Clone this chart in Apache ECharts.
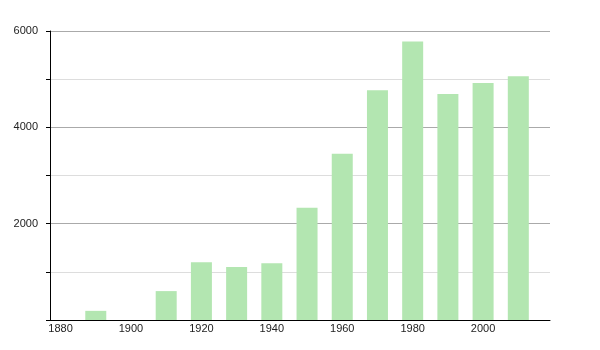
<!DOCTYPE html>
<html>
<head>
<meta charset="utf-8">
<script src="https://cdn.jsdelivr.net/npm/echarts@6/dist/echarts.min.js"></script>
<style>
  html, body { margin: 0; padding: 0; background: #fff; }
  #chart { width: 600px; height: 350px; }
</style>
</head>
<body>
<div id="chart"></div>
<script>
// 年份与人口
const years = [1890, 1910, 1920, 1930, 1940, 1950, 1960, 1970, 1980, 1990, 2000, 2010];
const values = [190, 600, 1200, 1100, 1180, 2330, 3450, 4770, 5780, 4690, 4920, 5060];
const xTickLabels = [1880, 1900, 1920, 1940, 1960, 1980, 2000];
const yTickLabels = [2000, 4000, 6000];

const chart = echarts.init(document.getElementById('chart'));

const option = {
    animation: false,
    grid: { left: 50, right: 50, top: 31, bottom: 30 },
    xAxis: {
        type: 'value',
        min: 1877,
        max: 2019,
        splitLine: { show: false },
        axisLine: { lineStyle: { color: '#000', width: 1 } },
        axisTick: { show: false },
        axisLabel: {
            customValues: xTickLabels,
            color: '#222',
            fontFamily: 'Liberation Sans',
            fontSize: 11,
            margin: 3,
            formatter: v => String(v)
        }
    },
    yAxis: {
        type: 'value',
        min: 0,
        max: 6000,
        interval: 1000,
        axisLine: { show: true, lineStyle: { color: '#000', width: 1 } },
        axisTick: { show: true, length: 4, lineStyle: { color: '#000' } },
        splitLine: {
            show: true,
            lineStyle: { color: ['#aaaaaa', '#dddddd'], width: 1 }
        },
        axisLabel: {
            color: '#222',
            fontFamily: 'Liberation Sans',
            fontSize: 11,
            margin: 12,
            formatter: v => yTickLabels.indexOf(v) >= 0 ? String(v) : ''
        }
    },
    series: [{
        type: 'bar',
        barWidth: 21,
        itemStyle: { color: '#b3e6b1' },
        data: years.map((y, i) => [y, values[i]])
    }]
};

chart.setOption(option);
</script>
</body>
</html>
